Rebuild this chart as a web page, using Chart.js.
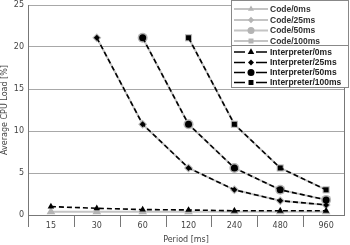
<!DOCTYPE html>
<html>
<head>
<meta charset="utf-8">
<script src="https://cdn.jsdelivr.net/npm/chart.js@4/dist/chart.umd.min.js"></script>
<style>
  html, body { margin: 0; padding: 0; background: #fff; }
  #wrap { width: 350px; height: 245px; }
</style>
</head>
<body>
<div id="wrap"><canvas id="grafica"></canvas></div>
<script>
// periodos del eje x
const periodos = ['15', '30', '60', '120', '240', '480', '960'];

// carga media de CPU [%] (null = sin medida)
const code0 = [0.4, 0.4, 0.4, 0.4, 0.4, 0.4, 0.4];
const code25 = [null, 21.1, 10.8, 5.6, 3.0, 1.7, 1.2];
const code50 = [null, null, 21.1, 10.8, 5.6, 3.0, 1.8];
const code100 = [null, null, null, 21.1, 10.8, 5.6, 3.0];
const interp0 = [1.0, 0.8, 0.65, 0.6, 0.5, 0.5, 0.5];
const interp25 = [null, 21.1, 10.8, 5.6, 3.0, 1.7, 1.2];
const interp50 = [null, null, 21.1, 10.8, 5.6, 3.0, 1.8];
const interp100 = [null, null, null, 21.1, 10.8, 5.6, 3.0];

const yTicks = [0, 5, 10, 15, 20, 25];

const gris = '#c4c4c4';
const grisPunto = '#b4b4b4';

function puntos(valores) {
    return valores.map((v, i) => ({ x: i, y: v }));
}

const codigo = (label, data, estilo, radio) => ({
    label: label,
    data: puntos(data),
    borderColor: gris,
    backgroundColor: grisPunto,
    borderWidth: 2,
    pointStyle: estilo,
    pointRadius: radio,
    pointBorderWidth: 0,
    order: 2,
    dash: []
});

const interprete = (label, data, estilo, radio) => ({
    label: label,
    data: puntos(data),
    borderColor: '#000',
    backgroundColor: '#000',
    borderWidth: 1.6,
    borderDash: [5, 3],
    pointStyle: estilo,
    pointRadius: radio,
    pointBorderWidth: 0,
    order: 1,
    dash: [5, 3]
});

const datasets = [
    codigo('Code/0ms', code0, 'triangle', 5),
    codigo('Code/25ms', code25, 'rectRot', 4.5),
    codigo('Code/50ms', code50, 'circle', 5),
    codigo('Code/100ms', code100, 'rect', 5),
    interprete('Interpreter/0ms', interp0, 'triangle', 3.8),
    interprete('Interpreter/25ms', interp25, 'rectRot', 3),
    interprete('Interpreter/50ms', interp50, 'circle', 3.5),
    interprete('Interpreter/100ms', interp100, 'rect', 3.5)
];

// marco, marcas del eje x y leyenda
const extras = {
    id: 'extras',
    afterDraw(chart) {
        const ctx = chart.ctx;
        const a = chart.chartArea;
        const xs = chart.scales.x;
        ctx.save();
        ctx.strokeStyle = '#777';
        ctx.lineWidth = 1;
        ctx.beginPath();
        ctx.moveTo(a.right + 0.5, a.top);
        ctx.lineTo(a.right + 0.5, a.bottom);
        for (let i = 0; i < periodos.length; i++) {
            const px = Math.round(xs.getPixelForValue(i - 0.5)) + 0.5;
            ctx.moveTo(px, a.bottom);
            ctx.lineTo(px, a.bottom + 12);
        }
        ctx.stroke();

        // leyenda
        const lx = 231, ly = 0, lw = 118, lh = 88;
        ctx.fillStyle = '#fff';
        ctx.fillRect(lx, ly, lw, lh);
        ctx.strokeStyle = '#888';
        ctx.strokeRect(lx + 0.5, ly + 0.5, lw - 1, lh - 1);
        ctx.beginPath();
        ctx.moveTo(lx, 45.5);
        ctx.lineTo(lx + lw, 45.5);
        ctx.stroke();

        ctx.font = 'bold 8.5px "Liberation Sans"';
        ctx.textBaseline = 'middle';
        ctx.textAlign = 'left';
        const filas = [9, 20, 30.5, 41, 52, 62.5, 72.5, 82.5];
        chart.data.datasets.forEach((ds, i) => {
            const y = filas[i];
            ctx.strokeStyle = ds.borderColor;
            ctx.lineWidth = ds.borderWidth;
            ctx.beginPath();
            if (ds.dash.length) {
                ctx.moveTo(234, y); ctx.lineTo(245, y);
                ctx.moveTo(256, y); ctx.lineTo(267, y);
            } else {
                ctx.moveTo(234, y); ctx.lineTo(268, y);
            }
            ctx.stroke();
            ctx.fillStyle = ds.backgroundColor;
            Chart.helpers.drawPoint(ctx, {
                pointStyle: ds.pointStyle,
                radius: ds.dash.length ? ds.pointRadius : ds.pointRadius * 0.7,
                rotation: 0,
                borderWidth: 0
            }, 251, y);
            ctx.fillStyle = ds.dash.length ? '#222' : '#333';
            ctx.fillText(ds.label, 270, y + 0.5);
        });
        ctx.restore();
    }
};

const ctx = document.getElementById('grafica').getContext('2d');
new Chart(ctx, {
    type: 'line',
    data: { datasets: datasets },
    options: {
        responsive: true,
        maintainAspectRatio: false,
        animation: false,
        spanGaps: false,
        layout: { padding: { top: 4, right: 6, left: 0, bottom: 0 } },
        plugins: {
            legend: { display: false },
            tooltip: { enabled: false }
        },
        scales: {
            x: {
                type: 'linear',
                min: -0.5,
                max: 6.39,
                afterBuildTicks: (s) => { s.ticks = periodos.map((p, i) => ({ value: i })); },
                afterFit: (s) => { s.height = 30; s.paddingLeft = 0; s.paddingRight = 0; },
                grid: { display: false, drawTicks: false },
                border: { display: true, color: '#777', width: 1 },
                ticks: {
                    callback: (v) => periodos[v],
                    color: '#444',
                    font: { family: 'DejaVu Sans', size: 8 },
                    padding: 6,
                    maxRotation: 0,
                    autoSkip: false
                },
                title: {
                    display: true,
                    text: 'Period [ms]',
                    color: '#444',
                    font: { family: 'DejaVu Sans', size: 8 },
                    padding: { top: 5, bottom: 0 }
                }
            },
            y: {
                min: 0,
                max: 25,
                afterBuildTicks: (s) => { s.ticks = yTicks.map(v => ({ value: v })); },
                afterFit: (s) => { s.width = 28; s.paddingTop = 0; s.paddingBottom = 0; },
                grid: { color: '#a8a8a8', drawTicks: false, lineWidth: 1 },
                border: { display: true, color: '#777', width: 1 },
                ticks: {
                    color: '#444',
                    font: { family: 'DejaVu Sans', size: 8 },
                    padding: 4
                },
                title: {
                    display: true,
                    text: 'Average CPU Load [%]',
                    color: '#444',
                    font: { family: 'DejaVu Sans', size: 8 },
                    padding: { top: 0, bottom: 2 }
                }
            }
        }
    },
    plugins: [extras]
});
</script>
</body>
</html>
